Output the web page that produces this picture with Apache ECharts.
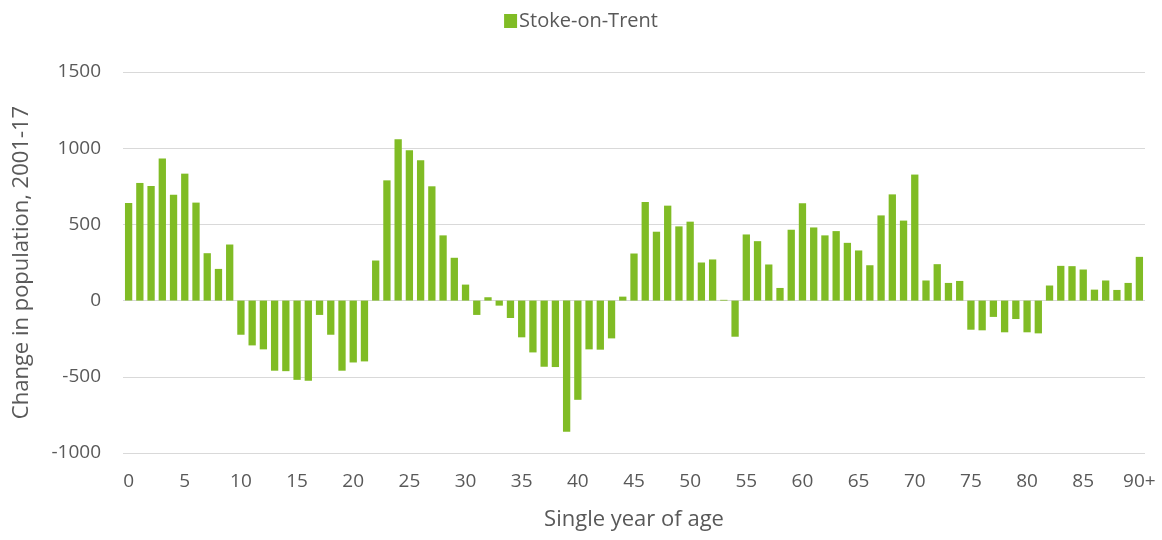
<!DOCTYPE html>
<html>
<head>
<meta charset="utf-8">
<script src="https://cdn.jsdelivr.net/npm/echarts@6/dist/echarts.min.js"></script>
<style>html,body{margin:0;padding:0;background:#fff;}#c{width:1162px;height:540px;}</style>
</head>
<body>
<div id="c"></div>
<script>
const ages = [];
for (let i = 0; i < 90; i++) ages.push(String(i));
ages.push('90+');
const seriesName = 'Stoke-on-Trent';
const values = [
  640, 772, 752, 932, 695, 833, 643, 311, 208, 368,
  -224, -294, -320, -460, -463, -520, -526, -94, -224, -460,
  -406, -399, 263, 789, 1059, 987, 921, 750, 428, 281,
  105, -94, 22, -33, -114, -241, -340, -434, -436, -860,
  -651, -320, -322, -248, 26, 309, 647, 452, 623, 487,
  518, 250, 270, 5, -237, 434, 390, 237, 83, 465,
  638, 480, 428, 456, 379, 329, 232, 559, 697, 525,
  827, 132, 239, 116, 129, -191, -195, -107, -208, -121,
  -208, -215, 99, 228, 226, 204, 72, 132, 70, 116,
  287
];
const yTicks = [-1000, -500, 0, 500, 1000, 1500];

const chart = echarts.init(document.getElementById('c'), null, {renderer: 'canvas'});
const font = 'Open Sans';
chart.setOption({
  animation: false,
  textStyle: {fontFamily: font},
  legend: {
    top: 6, left: 'center',
    itemWidth: 13, itemHeight: 14, itemGap: 4,
    textStyle: {fontSize: 20, color: '#595959', fontFamily: font, padding: [0, 0, 0, -3]},
    data: [{name: seriesName, icon: 'rect'}]
  },
  grid: {left: 123, right: 17, top: 72, bottom: 87},
  xAxis: {
    type: 'category',
    data: ages,
    name: 'Single year of age',
    nameLocation: 'middle',
    nameGap: 56,
    nameTextStyle: {fontSize: 22, color: '#595959', fontFamily: font},
    axisLine: {show: false},
    axisTick: {show: false},
    axisLabel: {interval: 4, fontSize: 19, color: '#595959', margin: 19, fontFamily: font}
  },
  yAxis: {
    type: 'value',
    min: yTicks[0], max: yTicks[yTicks.length - 1], interval: 500,
    name: 'Change in population, 2001-17',
    nameLocation: 'middle',
    nameGap: 90,
    nameTextStyle: {fontSize: 22, color: '#595959', fontFamily: font},
    axisLine: {show: false},
    axisTick: {show: false},
    axisLabel: {fontSize: 19, color: '#595959', margin: 22, fontFamily: font, formatter: v => String(v)},
    splitLine: {lineStyle: {color: '#d9d9d9', width: 1}}
  },
  series: [{
    name: seriesName,
    type: 'bar',
    data: values,
    barCategoryGap: '35%',
    itemStyle: {color: '#80bc25'}
  }]
});
</script>
</body>
</html>
